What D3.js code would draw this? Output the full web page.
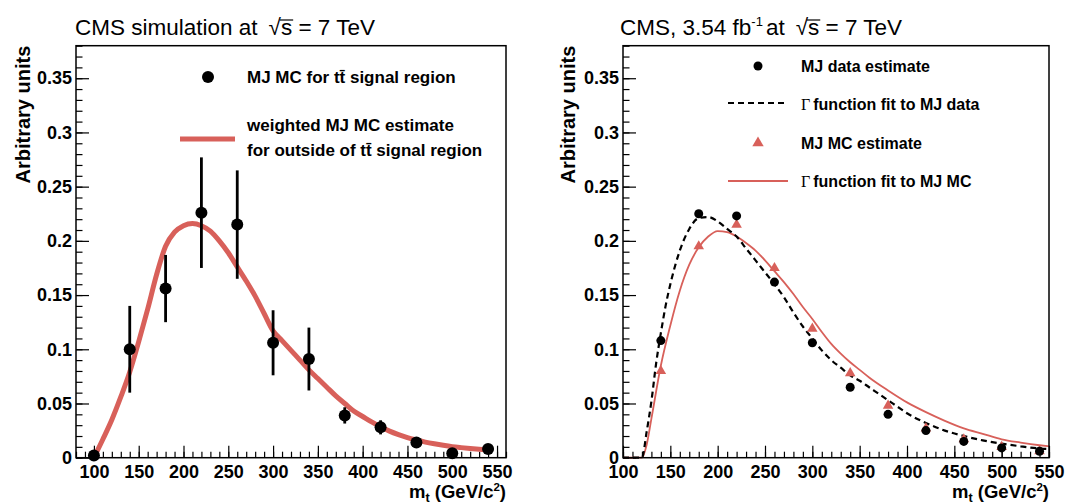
<!DOCTYPE html>
<html><head><meta charset="utf-8">
<script src="https://cdn.jsdelivr.net/npm/d3@7"></script>
<style>
body{margin:0;background:#fff;}
svg{display:block;font-family:"Liberation Sans",Arial,Helvetica,sans-serif;}
</style></head><body>
<svg id="c" width="1072" height="504"></svg>
<script>
// ---------- data ----------
const leftMass = [100,140,180,220,260,300,340,380,420,460,500,540];
const mcSignal = [0.002,0.100,0.156,0.226,0.215,0.106,0.091,0.039,0.028,0.014,0.004,0.008];
const mcSignalErr = [0.004,0.040,0.031,0.051,0.050,0.030,0.029,0.0075,0.0065,0.002,0.004,0.003];

const weightedMass = [100,110,120,130,140,150,160,170,180,190,200,210,220,230,240,250,260,270,280,290,300,310,320,330,340,350,360,370,380,390,400,410,420,430,440,450,460,470,480,490,500,510,520,530,540];
const weightedEst = [0,0.017,0.035,0.056,0.079,0.107,0.137,0.169,0.195,0.208,0.214,0.216,0.214,0.209,0.200,0.189,0.176,0.163,0.149,0.133,0.117,0.108,0.099,0.090,0.081,0.073,0.065,0.057,0.050,0.043,0.038,0.033,0.0285,0.0245,0.0213,0.0186,0.0164,0.0144,0.0128,0.0114,0.0102,0.0093,0.0085,0.0078,0.0072];

const rightMass = [140,180,220,260,300,340,380,420,460,500,540];
const dataEst = [0.108,0.225,0.223,0.162,0.106,0.065,0.040,0.025,0.015,0.009,0.006];
const mcEst = [0.080,0.195,0.215,0.175,0.119,0.078,0.048,0.027,0.017,0.010,0.006];

const dataFitMass = [100,120,125,130,135,140,145,150,160,170,180,190,200,210,220,230,240,250,260,270,280,290,300,310,320,330,340,350,360,370,380,390,400,420,440,460,480,500,520,540,550];
const dataFitVal = [0,0,0.024,0.052,0.087,0.115,0.140,0.160,0.191,0.211,0.221,0.222,0.218,0.211,0.204,0.193,0.182,0.171,0.160,0.148,0.134,0.121,0.110,0.099,0.090,0.083,0.076,0.071,0.065,0.059,0.053,0.047,0.041,0.032,0.025,0.020,0.016,0.013,0.0105,0.0085,0.008];

const mcFitMass = [100,120,125,130,140,150,160,170,180,190,200,210,220,230,240,250,260,270,280,290,300,310,320,330,340,350,360,380,400,420,440,460,480,500,520,540,550];
const mcFitVal = [0,0,0.012,0.036,0.085,0.122,0.154,0.178,0.194,0.204,0.209,0.208,0.204,0.198,0.191,0.182,0.172,0.162,0.151,0.139,0.128,0.116,0.105,0.096,0.088,0.081,0.074,0.062,0.051,0.042,0.034,0.027,0.022,0.017,0.014,0.0115,0.0105];

const yTickValues = [0,0.05,0.1,0.15,0.2,0.25,0.3,0.35];
const yTickLabels = ["0","0.05","0.1","0.15","0.2","0.25","0.3","0.35"];
const xTickValues = [100,150,200,250,300,350,400,450,500,550];
const xTickLabels = ["100","150","200","250","300","350","400","450","500","550"];

// ---------- styling ----------
const RED = "#d8605a";
const svg = d3.select("#c");
const yTop = 45.7, yBot = 457.7;

function panel(xDomain, xRange, yTitleX) {
  const g = svg.append("g");
  const x = d3.scaleLinear().domain(xDomain).range(xRange);
  const y = d3.scaleLinear().domain([0, 0.38]).range([yBot, yTop]);
  const yMinor = d3.range(0, 0.3801, 0.01).map(v => +v.toFixed(2));
  const xMinor = d3.range(Math.ceil(xDomain[0]/10)*10, xDomain[1]+0.1, 10);

  g.append("g").attr("transform", `translate(${xRange[0]},0)`)
    .call(d3.axisLeft(y).tickValues(yMinor).tickFormat("").tickSizeInner(-6.5).tickSizeOuter(0))
    .call(s => s.select(".domain").remove());
  g.append("g").attr("transform", `translate(0,${yBot})`)
    .call(d3.axisBottom(x).tickValues(xMinor).tickFormat("").tickSizeInner(-6).tickSizeOuter(0))
    .call(s => s.select(".domain").remove());
  const ya = g.append("g").attr("transform", `translate(${xRange[0]},0)`)
    .call(d3.axisLeft(y).tickValues(yTickValues).tickFormat((d,i)=>yTickLabels[i]).tickSizeInner(-13).tickSizeOuter(0).tickPadding(4));
  ya.select(".domain").remove();
  const xa = g.append("g").attr("transform", `translate(0,${yBot})`)
    .call(d3.axisBottom(x).tickValues(xTickValues).tickFormat((d,i)=>xTickLabels[i]).tickSizeInner(-12).tickSizeOuter(0).tickPadding(7.5));
  xa.select(".domain").remove();
  g.selectAll(".tick line").attr("stroke", "#000").attr("stroke-width", 1.2);
  g.selectAll(".tick text").attr("font-family", '"Liberation Sans",Arial,sans-serif')
    .attr("font-size", 18).attr("font-weight", "bold").attr("fill", "#000");

  g.append("text").attr("transform", `translate(${yTitleX},${yTop}) rotate(-90)`)
    .attr("text-anchor", "end").attr("font-size", 20).attr("font-weight", "bold").text("Arbitrary units");
  const xt = g.append("text").attr("x", xRange[1]).attr("y", 497.5)
    .attr("text-anchor", "end").attr("font-size", 18.5).attr("font-weight", "bold");
  xt.append("tspan").text("m");
  xt.append("tspan").attr("font-size", 12.5).attr("dy", 4).text("t");
  xt.append("tspan").attr("dy", -4).text(" (GeV/c");
  xt.append("tspan").attr("font-size", 11.5).attr("dy", -6.5).text("2");
  xt.append("tspan").attr("dy", 6.5).text(")");
  return {g, x, y, xRange};
}

function frame(p) {
  p.g.append("rect").attr("x", p.xRange[0]).attr("y", yTop)
    .attr("width", p.xRange[1]-p.xRange[0]).attr("height", yBot-yTop)
    .attr("fill", "none").attr("stroke", "#000").attr("stroke-width", 1.5);
}

function title(x0, build, sIndex) {
  const t = svg.append("text").attr("x", x0).attr("y", 35).attr("font-size", 22.5).attr("fill", "#000");
  build(t);
  const b = t.node().getExtentOfChar(sIndex);
  svg.append("line").attr("x1", b.x - 1).attr("x2", b.x + b.width + 1)
    .attr("y1", b.y + 5).attr("y2", b.y + 5).attr("stroke", "#000").attr("stroke-width", 1.2);
}

// ---------- left panel ----------
const L = panel([80, 560], [76, 506], 30);
L.g.append("path").datum(weightedMass.map((m,i)=>[m, weightedEst[i]]))
  .attr("d", d3.line().x(d=>L.x(d[0])).y(d=>L.y(d[1])).curve(d3.curveMonotoneX))
  .attr("fill", "none").attr("stroke", RED).attr("stroke-width", 5);
L.g.selectAll(".err").data(leftMass).join("line")
  .attr("x1", d=>L.x(d)).attr("x2", d=>L.x(d))
  .attr("y1", (d,i)=>L.y(Math.max(0, mcSignal[i]-mcSignalErr[i])))
  .attr("y2", (d,i)=>L.y(mcSignal[i]+mcSignalErr[i]))
  .attr("stroke", "#000").attr("stroke-width", 2.8);
L.g.selectAll(".pt").data(leftMass).join("circle")
  .attr("cx", d=>L.x(d)).attr("cy", (d,i)=>L.y(mcSignal[i])).attr("r", 6).attr("fill", "#000");
frame(L);

const lg = svg.append("g").attr("font-weight", "bold").attr("font-size", 17);
lg.append("circle").attr("cx", 208).attr("cy", 77).attr("r", 6).attr("fill", "#000");
lg.append("text").attr("x", 247).attr("y", 83).text("MJ MC for tt\u0304 signal region");
lg.append("line").attr("x1", 180).attr("x2", 235).attr("y1", 139).attr("y2", 139).attr("stroke", RED).attr("stroke-width", 5);
lg.append("text").attr("x", 247).attr("y", 131).text("weighted MJ MC estimate");
lg.append("text").attr("x", 247).attr("y", 156).text("for outside of tt\u0304 signal region");

// ---------- right panel ----------
const R = panel([100, 550], [623, 1049], 575);
R.g.append("path").datum(mcFitMass.map((m,i)=>[m, mcFitVal[i]]))
  .attr("d", d3.line().x(d=>R.x(d[0])).y(d=>R.y(d[1])).curve(d3.curveMonotoneX))
  .attr("fill", "none").attr("stroke", RED).attr("stroke-width", 1.8);
R.g.append("path").datum(dataFitMass.map((m,i)=>[m, dataFitVal[i]]))
  .attr("d", d3.line().x(d=>R.x(d[0])).y(d=>R.y(d[1])).curve(d3.curveMonotoneX))
  .attr("fill", "none").attr("stroke", "#000").attr("stroke-width", 2.2).attr("stroke-dasharray", "6,4");
const tri = d3.symbol().type(d3.symbolTriangle).size(48);
R.g.selectAll(".tri").data(rightMass).join("path")
  .attr("transform", (d,i)=>`translate(${R.x(d)},${R.y(mcEst[i])})`).attr("d", tri).attr("fill", RED);
R.g.selectAll(".dp").data(rightMass).join("circle")
  .attr("cx", d=>R.x(d)).attr("cy", (d,i)=>R.y(dataEst[i])).attr("r", 4.5).attr("fill", "#000");
frame(R);

const rg = svg.append("g").attr("font-weight", "bold").attr("font-size", 16);
rg.append("circle").attr("cx", 758).attr("cy", 66).attr("r", 4.5).attr("fill", "#000");
rg.append("text").attr("x", 801).attr("y", 71.5).text("MJ data estimate");
rg.append("line").attr("x1", 728).attr("x2", 788).attr("y1", 103).attr("y2", 103)
  .attr("stroke", "#000").attr("stroke-width", 2.2).attr("stroke-dasharray", "6,4");
const g1 = rg.append("text").attr("x", 801).attr("y", 109.5);
g1.append("tspan").attr("font-family", '"Liberation Serif","DejaVu Serif",serif').attr("font-weight", "normal").text("\u0393");
g1.append("tspan").attr("dx", 3).text("function fit to MJ data");
rg.append("path").attr("transform", "translate(758,143)").attr("d", d3.symbol().type(d3.symbolTriangle).size(56)).attr("fill", RED);
rg.append("text").attr("x", 801).attr("y", 148.5).text("MJ MC estimate");
rg.append("line").attr("x1", 728).attr("x2", 788).attr("y1", 181).attr("y2", 181).attr("stroke", RED).attr("stroke-width", 1.8);
const g2 = rg.append("text").attr("x", 801).attr("y", 187);
g2.append("tspan").attr("font-family", '"Liberation Serif","DejaVu Serif",serif').attr("font-weight", "normal").text("\u0393");
g2.append("tspan").attr("dx", 3).text("function fit to MJ MC");

// ---------- titles ----------
title(75, t => {
  t.append("tspan").text("CMS simulation at");
  t.append("tspan").attr("dx", 11).text("\u221A");
  t.append("tspan").text("s");
  t.append("tspan").text(" = 7 TeV");
}, 18);
title(620, t => {
  t.append("tspan").text("CMS, 3.54 fb");
  t.append("tspan").attr("font-size", 13).attr("dy", -9).text("-1");
  t.append("tspan").attr("dx", 3).attr("dy", 9).text("at");
  t.append("tspan").attr("dx", 11).text("\u221A");
  t.append("tspan").text("s");
  t.append("tspan").text(" = 7 TeV");
}, 17);
</script>
</body></html>
